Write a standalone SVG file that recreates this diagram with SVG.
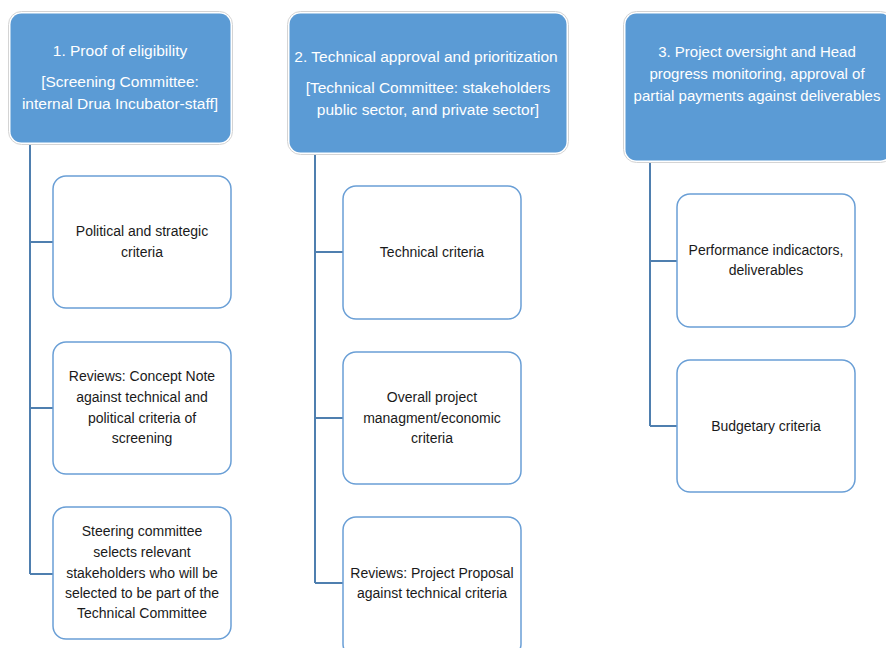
<svg xmlns="http://www.w3.org/2000/svg" width="886" height="648" viewBox="0 0 886 648">
<style>
.hdo{fill:#fff;stroke:#d4d4d4;stroke-width:1}
.hd{fill:#5B9BD5;stroke:none}
.ht{font-family:"Liberation Sans",Arial,sans-serif;font-size:15.5px;fill:#fff;text-anchor:middle}
.ht3{font-size:15px}
.ch{fill:#fff;stroke:#6A9FD6;stroke-width:1.5}
.ct{font-family:"Liberation Sans",Arial,sans-serif;font-size:14px;fill:#1a1a1a;text-anchor:middle}
.ln{fill:none;stroke:#4F7FAF;stroke-width:2}
</style>
<rect width="886" height="648" fill="#fff"/>
<g id="connectors">
<path class="ln" d="M30,144 V574 M30,242 H53 M30,408 H53 M30,574 H53"/>
<path class="ln" d="M315,154 V583 M315,252 H343 M315,418 H343 M315,583 H343"/>
<path class="ln" d="M650,162 V426 M650,261 H677 M650,426 H677"/>
</g>
<g id="head1">
<rect class="hdo" x="8.5" y="11.5" width="224" height="133" rx="13"/>
<rect class="hd" x="10.5" y="13.5" width="220" height="129" rx="11"/>
<text class="ht" x="120" y="56">1. Proof of eligibility</text>
<text class="ht" x="120" y="87">[Screening Committee:</text>
<text class="ht" x="120" y="109">internal Drua Incubator-staff]</text>
</g>
<g id="head2">
<rect class="hdo" x="287.5" y="11.5" width="281" height="143" rx="13"/>
<rect class="hd" x="289.5" y="13.5" width="277" height="139" rx="11"/>
<text class="ht" x="426" y="62">2. Technical approval and prioritization</text>
<text class="ht" x="428" y="93">[Technical Committee: stakeholders</text>
<text class="ht" x="428" y="115">public sector, and private sector]</text>
</g>
<g id="head3">
<rect class="hdo" x="623.5" y="11.5" width="270" height="151" rx="13"/>
<rect class="hd" x="625.5" y="13.5" width="266" height="147" rx="11"/>
<text class="ht ht3" x="757" y="57">3. Project oversight and Head</text>
<text class="ht ht3" x="757" y="79">progress monitoring, approval of</text>
<text class="ht ht3" x="757" y="101">partial payments against deliverables</text>
</g>
<g id="c1a">
<rect class="ch" x="53" y="176" width="178" height="132" rx="13"/>
<text class="ct" x="142" y="236">Political and strategic</text>
<text class="ct" x="142" y="257">criteria</text>
</g>
<g id="c1b">
<rect class="ch" x="53" y="342" width="178" height="132" rx="13"/>
<text class="ct" x="142" y="381">Reviews: Concept Note</text>
<text class="ct" x="142" y="402">against technical and</text>
<text class="ct" x="142" y="423">political criteria of</text>
<text class="ct" x="142" y="443">screening</text>
</g>
<g id="c1c">
<rect class="ch" x="53" y="507" width="178" height="132" rx="13"/>
<text class="ct" x="142" y="536">Steering committee</text>
<text class="ct" x="142" y="557">selects relevant</text>
<text class="ct" x="142" y="578">stakeholders who will be</text>
<text class="ct" x="142" y="598">selected to be part of the</text>
<text class="ct" x="142" y="618">Technical Committee</text>
</g>
<g id="c2a">
<rect class="ch" x="343" y="186" width="178" height="133" rx="13"/>
<text class="ct" x="432" y="257">Technical criteria</text>
</g>
<g id="c2b">
<rect class="ch" x="343" y="352" width="178" height="132" rx="13"/>
<text class="ct" x="432" y="402">Overall project</text>
<text class="ct" x="432" y="423">managment/economic</text>
<text class="ct" x="432" y="443">criteria</text>
</g>
<g id="c2c">
<rect class="ch" x="343" y="517" width="178" height="140" rx="13"/>
<text class="ct" x="432" y="578">Reviews: Project Proposal</text>
<text class="ct" x="432" y="598">against technical criteria</text>
</g>
<g id="c3a">
<rect class="ch" x="677" y="194" width="178" height="133" rx="13"/>
<text class="ct" x="766" y="255">Performance indicactors,</text>
<text class="ct" x="766" y="275">deliverables</text>
</g>
<g id="c3b">
<rect class="ch" x="677" y="360" width="178" height="132" rx="13"/>
<text class="ct" x="766" y="431">Budgetary criteria</text>
</g>
</svg>
